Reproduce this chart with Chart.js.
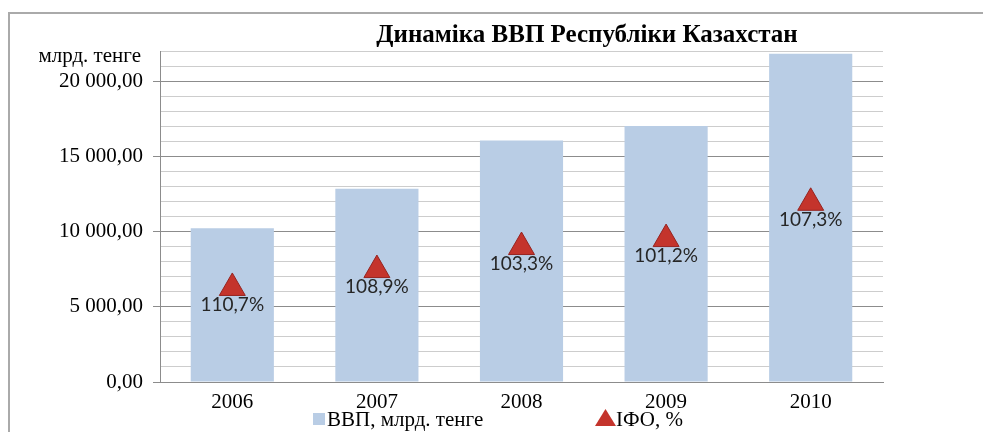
<!DOCTYPE html>
<html>
<head>
<meta charset="utf-8">
<script src="https://cdn.jsdelivr.net/npm/chart.js@4.4.1/dist/chart.umd.min.js"></script>
<style>
    html, body { margin: 0; padding: 0; background: #fff; }
</style>
</head>
<body>
<canvas id="gdpChart" width="983" height="432"></canvas>
<script>
const YEARS = ['2006', '2007', '2008', '2009', '2010'];
const GDP_VALUES = [10213.7, 12849.8, 16052.9, 17007.6, 21815.5];
const IFO_VALUES = [110.7, 108.9, 103.3, 101.2, 107.3];
// where the markers sit on the left axis
const IFO_MARKER_Y = [6250, 7440, 8970, 9500, 11910];

const CHART_TITLE = 'Динаміка ВВП Республіки Казахстан';
const UNIT_LABEL = 'млрд. тенге';
const GDP_LABEL = 'ВВП, млрд. тенге';
const IFO_LABEL = 'IФО, %';

const BAR_COLOR = 'rgb(185, 205, 229)';
const MARKER_COLOR = 'rgb(196, 52, 44)';
const MARKER_BORDER = 'rgb(150, 36, 32)';
const MAJOR_GRID = 'rgba(140, 140, 140, 1)';
const MINOR_GRID = 'rgba(205, 205, 205, 1)';
const SERIF = '"Liberation Serif", "Times New Roman", serif';

function formatTenge(v) {
    var parts = v.toFixed(2).split('.');
    return parts[0].replace(/\B(?=(\d{3})+(?!\d))/g, ' ') + ',' + parts[1];
}

function formatPercent(v) {
    return v.toFixed(1).replace('.', ',') + '%';
}

function isMajor(value) {
    return value % 5000 === 0 && value <= 20000;
}

const chartTextPlugin = {
    id: 'chartText',
    beforeDraw(chart) {
        var ctx = chart.ctx;
        ctx.save();
        ctx.strokeStyle = 'rgb(170, 170, 170)';
        ctx.lineWidth = 2;
        ctx.beginPath();
        ctx.moveTo(9, chart.height);
        ctx.lineTo(9, 13);
        ctx.lineTo(chart.width, 13);
        ctx.stroke();
        ctx.restore();
    },
    afterDatasetsDraw(chart) {
        var ctx = chart.ctx;
        var meta = chart.getDatasetMeta(1);
        ctx.save();
        ctx.font = '19px Lato, "Open Sans", sans-serif';
        ctx.fillStyle = '#262626';
        ctx.textAlign = 'center';
        ctx.textBaseline = 'middle';
        meta.data.forEach(function (pt, i) {
            ctx.fillText(formatPercent(IFO_VALUES[i]), pt.x, pt.y + 17);
        });
        ctx.restore();
    },
    afterDraw(chart) {
        var ctx = chart.ctx;
        ctx.save();
        ctx.fillStyle = '#000';
        ctx.textBaseline = 'middle';

        ctx.font = 'bold 25px ' + SERIF;
        ctx.textAlign = 'center';
        ctx.fillText(CHART_TITLE, 587, 36);

        ctx.font = '21px ' + SERIF;
        ctx.textAlign = 'right';
        ctx.fillText(UNIT_LABEL, 141, 56);

        // legend
        ctx.textAlign = 'left';
        ctx.font = '21px ' + SERIF;
        ctx.fillStyle = BAR_COLOR;
        ctx.fillRect(313, 413, 12, 12);
        ctx.fillStyle = '#000';
        ctx.fillText(chart.data.datasets[0].label, 327, 420);

        ctx.fillStyle = MARKER_COLOR;
        ctx.beginPath();
        ctx.moveTo(605.5, 409);
        ctx.lineTo(616, 426);
        ctx.lineTo(595, 426);
        ctx.closePath();
        ctx.fill();
        ctx.fillStyle = '#000';
        ctx.fillText(chart.data.datasets[1].label, 616, 420);
        ctx.restore();
    }
};

var ctx = document.getElementById('gdpChart').getContext('2d');
new Chart(ctx, {
    type: 'bar',
    data: {
        labels: YEARS,
        datasets: [
            {
                label: GDP_LABEL,
                data: GDP_VALUES,
                backgroundColor: BAR_COLOR,
                borderWidth: 0,
                categoryPercentage: 1,
                barPercentage: 0.575,
                order: 2
            },
            {
                type: 'line',
                label: IFO_LABEL,
                data: IFO_MARKER_Y,
                showLine: false,
                pointStyle: 'triangle',
                pointRadius: 15,
                pointHoverRadius: 15,
                pointBackgroundColor: MARKER_COLOR,
                pointBorderColor: MARKER_BORDER,
                pointBorderWidth: 1,
                order: 1
            }
        ]
    },
    options: {
        responsive: false,
        animation: false,
        layout: {
            padding: { left: 10, right: 100, top: 51, bottom: 0 }
        },
        plugins: {
            legend: { display: false },
            title: { display: false },
            tooltip: { enabled: false }
        },
        scales: {
            x: {
                grid: { display: false, drawTicks: false },
                border: { display: true, color: MAJOR_GRID, width: 1 },
                ticks: {
                    color: '#000',
                    padding: 8,
                    font: { family: SERIF, size: 21 }
                },
                afterFit: function (scale) { scale.height = 50; }
            },
            y: {
                min: 0,
                max: 22000,
                ticks: {
                    stepSize: 1000,
                    autoSkip: false,
                    color: '#000',
                    padding: 10,
                    font: { family: SERIF, size: 21 },
                    callback: function (value) {
                        return isMajor(value) ? formatTenge(value) : '';
                    }
                },
                grid: {
                    color: function (c) { return isMajor(c.tick.value) ? MAJOR_GRID : MINOR_GRID; },
                    tickColor: function (c) { return isMajor(c.tick.value) ? MAJOR_GRID : 'rgba(0,0,0,0)'; },
                    tickLength: 7,
                    lineWidth: 1
                },
                border: { display: true, color: MAJOR_GRID, width: 1 },
                afterFit: function (scale) { scale.width = 150; }
            }
        }
    },
    plugins: [chartTextPlugin]
});
</script>
</body>
</html>
